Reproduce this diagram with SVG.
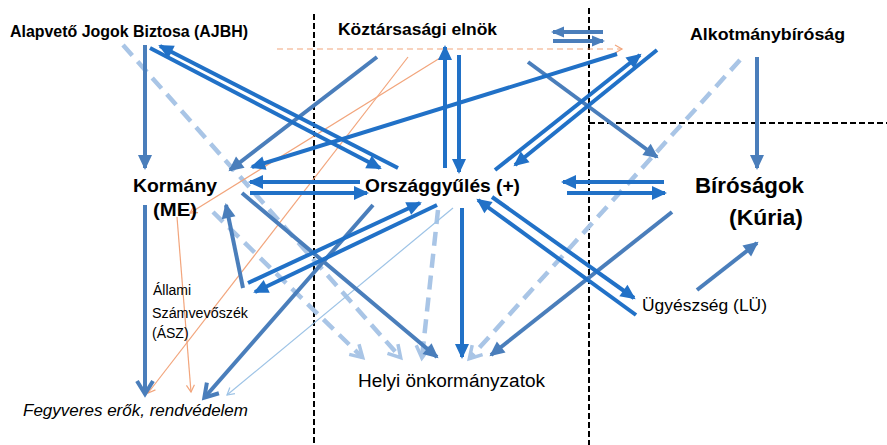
<svg xmlns="http://www.w3.org/2000/svg" width="887" height="445" viewBox="0 0 887 445">
<style>
.b{stroke:#2171c7;stroke-width:4;fill:none}
.s{stroke:#4a7ebb;stroke-width:4;fill:none}
.l{stroke:#a9c5e6;stroke-width:4.5;fill:none;stroke-dasharray:14 8}
.o{stroke:#f2a57c;stroke-width:1.2;fill:none}
.t{stroke:#9dc3e6;stroke-width:1.2;fill:none}
.div{stroke:#000;stroke-width:2;stroke-dasharray:6 3;fill:none}
.h{font-family:"Liberation Sans",Arial,sans-serif;font-weight:bold;fill:#000}
.r{font-family:"Liberation Sans",Arial,sans-serif;fill:#000}
</style>
<defs>
<marker id="aB" markerUnits="userSpaceOnUse" markerWidth="16" markerHeight="14" refX="13" refY="7" orient="auto" overflow="visible"><path d="M0,0 L15,7 L0,14 z" fill="#2171c7"/></marker>
<marker id="aS" markerUnits="userSpaceOnUse" markerWidth="16" markerHeight="14" refX="13" refY="7" orient="auto" overflow="visible"><path d="M0,0 L15,7 L0,14 z" fill="#4a7ebb"/></marker>
<marker id="aSm" markerUnits="userSpaceOnUse" markerWidth="13" markerHeight="11" refX="11" refY="5.5" orient="auto" overflow="visible"><path d="M0,0 L13,5.5 L0,11 z" fill="#4a7ebb"/></marker>
<marker id="vS" markerUnits="userSpaceOnUse" markerWidth="16" markerHeight="18" refX="13" refY="9" orient="auto" overflow="visible"><path d="M1,1 L14,9 L1,17" fill="none" stroke="#4a7ebb" stroke-width="4"/></marker>
<marker id="vL" markerUnits="userSpaceOnUse" markerWidth="14" markerHeight="16" refX="12" refY="8" orient="auto" overflow="visible"><path d="M1,1 L13,8 L1,15" fill="none" stroke="#a9c5e6" stroke-width="3.5"/></marker>
<marker id="vO" markerUnits="userSpaceOnUse" markerWidth="8" markerHeight="8" refX="7" refY="4" orient="auto" overflow="visible"><path d="M0,0 L7,4 L0,8" fill="none" stroke="#f2a57c" stroke-width="1.2"/></marker>
<marker id="vT" markerUnits="userSpaceOnUse" markerWidth="8" markerHeight="8" refX="7" refY="4" orient="auto" overflow="visible"><path d="M0,0 L7,4 L0,8" fill="none" stroke="#9dc3e6" stroke-width="1.2"/></marker>
</defs>
<rect width="887" height="445" fill="#fff"/>
<g id="dividers">
<line class="div" x1="314" y1="14" x2="314" y2="445"/>
<line class="div" x1="589" y1="8" x2="589" y2="445"/>
<line class="div" x1="589" y1="123" x2="887" y2="123"/>
</g>
<g id="connectors">
<!-- light dashed to Helyi -->
<line class="l" x1="123" y1="45" x2="400" y2="357" marker-end="url(#vL)"/>
<line class="l" x1="213" y1="212" x2="362" y2="357" marker-end="url(#vL)"/>
<line class="l" x1="438" y1="210" x2="422" y2="357" marker-end="url(#vL)"/>
<line class="l" x1="740" y1="60" x2="470" y2="358" marker-end="url(#vL)"/>
<!-- orange -->
<line class="o" x1="277" y1="49" x2="622" y2="49" stroke-dasharray="6 4" marker-end="url(#vO)"/>
<line class="o" x1="408" y1="57" x2="148" y2="393" marker-end="url(#vO)"/>
<line class="o" x1="440" y1="58" x2="190" y2="213" marker-end="url(#vO)"/>
<line class="o" x1="177" y1="217" x2="191" y2="392" marker-end="url(#vO)"/>
<!-- thin light blue -->
<line class="t" x1="453" y1="208" x2="227" y2="395" marker-end="url(#vT)"/>
<!-- steel blue -->
<line class="s" x1="145" y1="45" x2="145" y2="168" marker-end="url(#aS)"/>
<line class="s" x1="377" y1="57" x2="230" y2="170" marker-end="url(#aS)"/>
<line class="s" x1="528" y1="62" x2="657" y2="157" marker-end="url(#aS)"/>
<line class="s" x1="757" y1="57" x2="757" y2="168" marker-end="url(#aS)"/>
<line class="s" x1="145" y1="205" x2="145" y2="393" stroke-width="5" marker-end="url(#vS)"/>
<line class="s" x1="242" y1="193" x2="437" y2="357" marker-end="url(#aS)"/>
<line class="s" x1="243" y1="288" x2="226" y2="205" marker-end="url(#aS)"/>
<line class="s" x1="373" y1="205" x2="205" y2="397" stroke-width="4.5" marker-end="url(#vS)"/>
<line class="s" x1="672" y1="212" x2="491" y2="355" marker-end="url(#aS)"/>
<line class="s" x1="697" y1="290" x2="757" y2="243" marker-end="url(#aS)"/>
<line class="s" x1="603" y1="32" x2="553" y2="32" marker-end="url(#aSm)"/>
<line class="s" x1="553" y1="41" x2="603" y2="41" marker-end="url(#aSm)"/>
<!-- bright blue -->
<line class="b" x1="398" y1="168" x2="160" y2="46" marker-end="url(#aB)"/>
<line class="b" x1="150" y1="48" x2="380" y2="168" marker-end="url(#aB)"/>
<line class="b" x1="445" y1="168" x2="445" y2="47" marker-end="url(#aB)"/>
<line class="b" x1="459" y1="55" x2="459" y2="172" marker-end="url(#aB)"/>
<line class="b" x1="360" y1="182" x2="250" y2="182" marker-end="url(#aB)"/>
<line class="b" x1="250" y1="193" x2="367" y2="193" marker-end="url(#aB)"/>
<line class="b" x1="664" y1="182" x2="563" y2="182" marker-end="url(#aB)"/>
<line class="b" x1="567" y1="193" x2="665" y2="193" marker-end="url(#aB)"/>
<line class="b" x1="617" y1="54" x2="252" y2="167" marker-end="url(#aB)"/>
<line class="b" x1="495" y1="170" x2="640" y2="55" marker-end="url(#aB)"/>
<line class="b" x1="657" y1="50" x2="515" y2="165" marker-end="url(#aB)"/>
<line class="b" x1="462" y1="208" x2="462" y2="357" marker-end="url(#aB)"/>
<line class="b" x1="248" y1="283" x2="420" y2="203" marker-end="url(#aB)"/>
<line class="b" x1="437" y1="205" x2="255" y2="292" marker-end="url(#aB)"/>
<line class="b" x1="636" y1="315" x2="478" y2="200" marker-end="url(#aB)"/>
<line class="b" x1="492" y1="197" x2="634" y2="298" marker-end="url(#aB)"/>
</g>
<g id="n-ajbh"><text class="h" x="10" y="37" font-size="16" textLength="238" lengthAdjust="spacingAndGlyphs">Alapvető Jogok Biztosa (AJBH)</text></g>
<g id="n-ke"><text class="h" x="338" y="35" font-size="17" textLength="159" lengthAdjust="spacingAndGlyphs">Köztársasági elnök</text></g>
<g id="n-ab"><text class="h" x="690" y="40" font-size="17" textLength="155" lengthAdjust="spacingAndGlyphs">Alkotmánybíróság</text></g>
<g id="n-kormany"><text class="h" x="133" y="192" font-size="19" textLength="84" lengthAdjust="spacingAndGlyphs">Kormány</text><text class="h" x="153" y="216" font-size="19" textLength="44" lengthAdjust="spacingAndGlyphs">(ME)</text></g>
<g id="n-ogy"><text class="h" x="365" y="192" font-size="19" textLength="155" lengthAdjust="spacingAndGlyphs">Országgyűlés (+)</text></g>
<g id="n-bir"><text class="h" x="695" y="193" font-size="22" textLength="109" lengthAdjust="spacingAndGlyphs">Bíróságok</text><text class="h" x="729" y="225" font-size="22" textLength="74" lengthAdjust="spacingAndGlyphs">(Kúria)</text></g>
<g id="n-asz"><text class="r" x="153" y="295" font-size="14">Állami</text><text class="r" x="152" y="318" font-size="14" textLength="96" lengthAdjust="spacingAndGlyphs">Számvevőszék</text><text class="r" x="152" y="338" font-size="14">(ÁSZ)</text></g>
<g id="n-ugy"><text class="r" x="642" y="311" font-size="17" textLength="125" lengthAdjust="spacingAndGlyphs">Ügyészség (LÜ)</text></g>
<g id="n-helyi"><text class="r" x="358" y="387" font-size="18" textLength="187" lengthAdjust="spacingAndGlyphs">Helyi önkormányzatok</text></g>
<g id="n-fegy"><text class="r" x="23" y="416" font-size="17" font-style="italic" textLength="225" lengthAdjust="spacingAndGlyphs">Fegyveres erők, rendvédelem</text></g>
</svg>
